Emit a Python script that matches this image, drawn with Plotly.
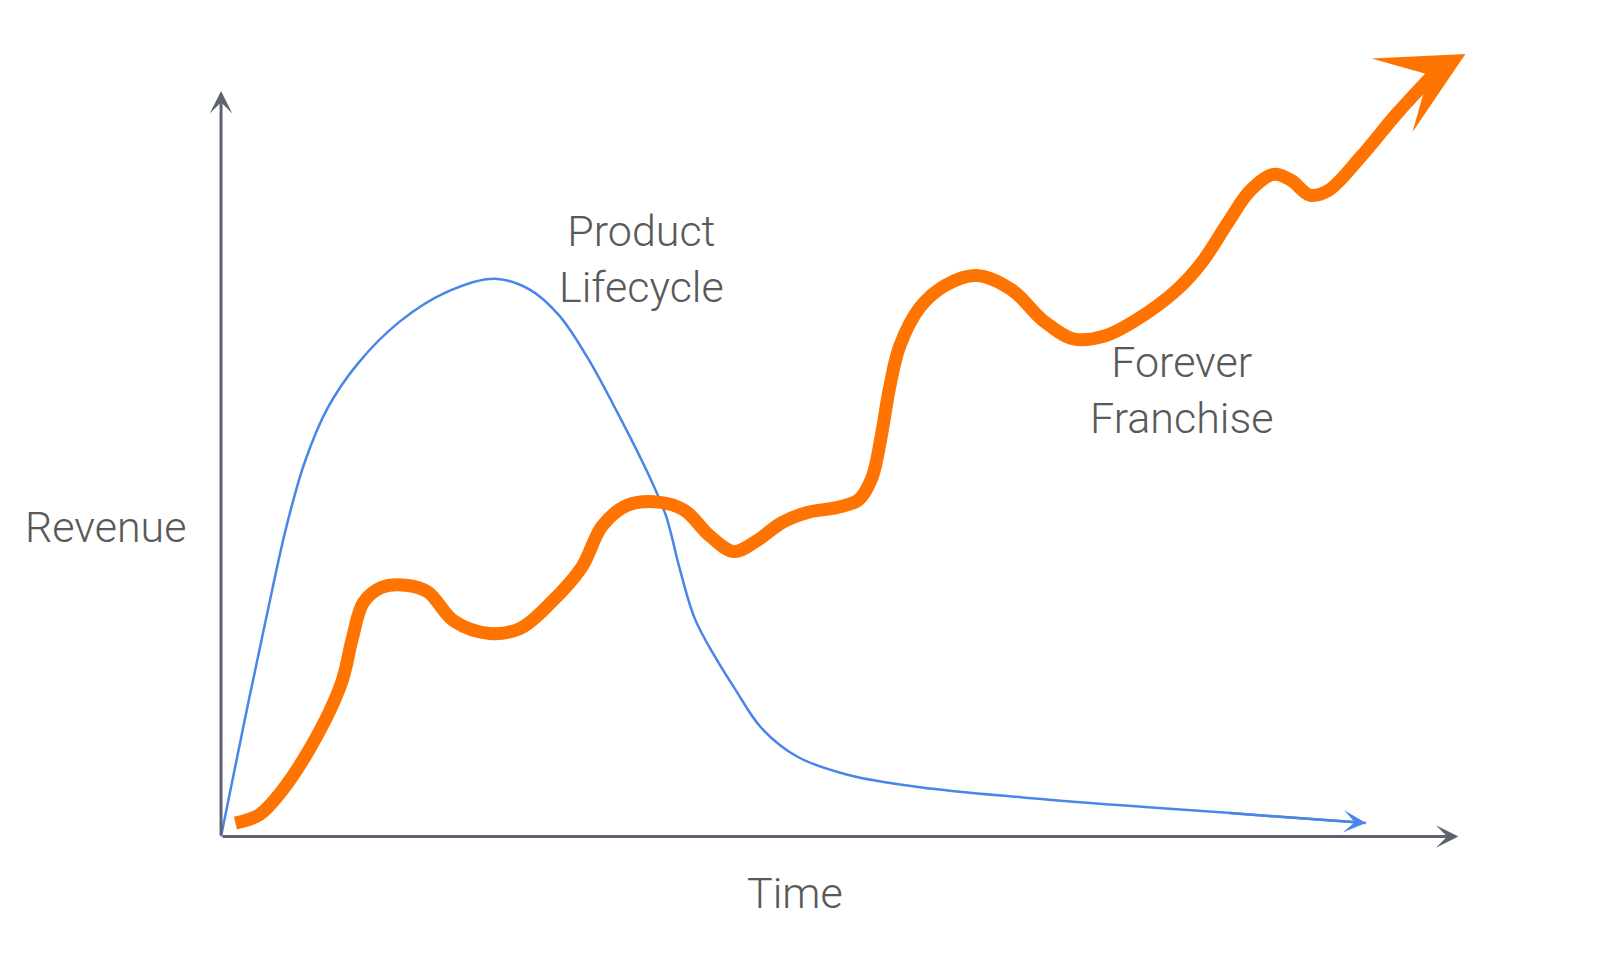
import plotly.graph_objects as go

# Product Lifecycle curve (time, revenue)
life_t = [0, 1.83, 3.67, 5.33, 6.83, 8.67, 11.17, 14.5, 18.33, 22.25, 25.17,
          27.5, 29.75, 32.25, 34.75, 36.17, 37.25, 38.5, 40.17, 41.83, 43.92, 46.83,
          51.0, 56.83, 65.17, 73.5, 81.83, 93.08]
life_r = [0, 15.0, 29.58, 42.08, 50.83, 58.06, 64.17, 69.72, 73.75, 75.56, 74.03,
          70.56, 65.0, 57.36, 49.03, 43.47, 36.53, 29.58, 24.31, 19.86, 14.72, 10.83,
          8.33, 6.67, 5.28, 4.17, 3.19, 1.81]

# Forever Franchise curve (time, revenue)
fran_t = [1.17, 3.08, 4.33, 6.83, 9.75, 10.67, 11.58, 13.08, 15.17, 16.83, 18.92, 21.83,
          24.33, 26.83, 29.33, 31.0, 33.08, 35.58, 37.67, 39.75, 41.67, 43.5, 45.58,
          47.67, 50.17, 51.83, 52.92, 53.67, 54.33, 55.17, 56.83, 58.92, 61.42, 64.33,
          66.83, 69.33, 71.83, 74.33, 77.67, 79.75, 81.83, 83.67, 85.58, 87.0, 88.5,
          90.0, 92.67, 95.58, 98.92]
fran_r = [1.8, 2.9, 4.9, 10.8, 20.6, 26.8, 31.7, 33.75, 34.0, 33.1, 29.2, 27.5,
          28.2, 31.7, 36.5, 42.1, 44.9, 45.3, 44.2, 40.7, 38.6, 40.0, 42.5,
          43.9, 44.6, 45.6, 48.6, 54.2, 60.6, 66.4, 71.7, 74.7, 76.0, 74.0,
          69.9, 67.4, 67.8, 69.9, 74.0, 77.8, 83.1, 87.5, 89.7, 88.9, 86.9,
          87.5, 92.1, 97.9, 103.9]
fran_tip = (101.17, 106.0)

axis_end_t = 100.6
axis_end_r = 101.0

labels = {
    "Product<br>Lifecycle": (34.17, 78.2),
    "Forever<br>Franchise": (78.1, 60.5),
    "Revenue": (-9.42, 41.9),
    "Time": (46.67, -7.64),
}

BLUE = "#4a86e8"
ORANGE = "#ff7400"
AXIS = "#5f6370"
TEXT = "#595959"
FONT = "Roboto, Lato, 'Liberation Sans', sans-serif"

fig = go.Figure()
fig.add_trace(go.Scatter(x=life_t, y=life_r, mode="lines",
                         line=dict(color=BLUE, width=2.5, shape="spline", smoothing=1.0),
                         hoverinfo="skip"))
fig.add_trace(go.Scatter(x=fran_t, y=fran_r, mode="lines",
                         line=dict(color=ORANGE, width=13, shape="spline", smoothing=1.0),
                         hoverinfo="skip"))

annos = []
# axes as arrows
annos.append(dict(x=0, y=axis_end_r, ax=0, ay=0, xref="x", yref="y", axref="x", ayref="y",
                  text="", showarrow=True, arrowhead=3, arrowwidth=3, arrowsize=1.25,
                  arrowcolor=AXIS, standoff=0))
annos.append(dict(x=axis_end_t, y=0, ax=0, ay=0, xref="x", yref="y", axref="x", ayref="y",
                  text="", showarrow=True, arrowhead=3, arrowwidth=3, arrowsize=1.25,
                  arrowcolor=AXIS, standoff=0))
# blue arrowhead
annos.append(dict(x=life_t[-1], y=life_r[-1], ax=life_t[-2], ay=life_r[-2],
                  xref="x", yref="y", axref="x", ayref="y",
                  text="", showarrow=True, arrowhead=3, arrowwidth=2.5, arrowsize=1.5,
                  arrowcolor=BLUE, standoff=0))
# orange arrowhead
annos.append(dict(x=fran_tip[0], y=fran_tip[1], ax=fran_t[-1], ay=fran_r[-1],
                  xref="x", yref="y", axref="x", ayref="y",
                  text="", showarrow=True, arrowhead=3, arrowwidth=13, arrowsize=1.08,
                  arrowcolor=ORANGE, standoff=0))
for txt, (tx, ry) in labels.items():
    annos.append(dict(x=tx, y=ry, xref="x", yref="y", text=txt, showarrow=False,
                      xanchor="center", yanchor="middle", align="center",
                      font=dict(family=FONT, size=43, color=TEXT, weight=300)))

fig.update_layout(
    width=1600, height=965,
    margin=dict(l=0, r=0, t=0, b=0),
    paper_bgcolor="white", plot_bgcolor="white",
    showlegend=False,
    xaxis=dict(range=[-17.32, 112.76], visible=False, fixedrange=True),
    yaxis=dict(range=[-18.51, 112.25], visible=False, fixedrange=True),
    annotations=annos,
)

fig.write_html("out.html", config={"displayModeBar": False})
